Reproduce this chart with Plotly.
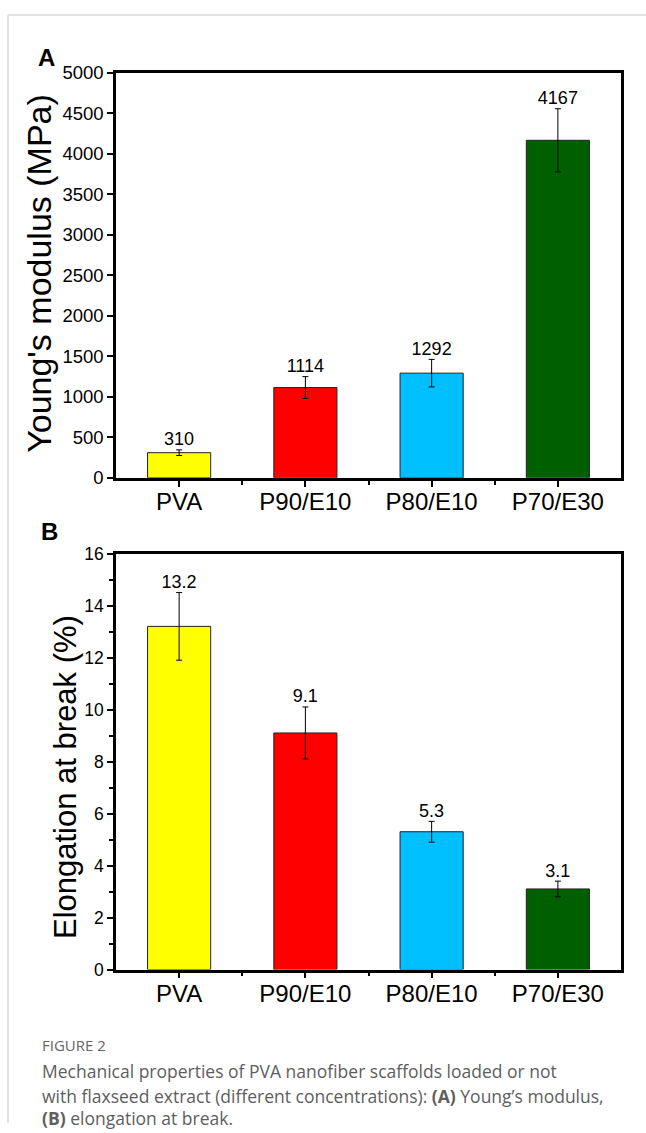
import plotly.graph_objects as go

W, H = 646, 1133

categories = ["PVA", "P90/E10", "P80/E10", "P70/E30"]
colors = ["#FFFF00", "#FF0000", "#00BFFF", "#006000"]

young_modulus = [310, 1114, 1292, 4167]
young_err = [35, 135, 170, 390]

elongation = [13.2, 9.1, 5.3, 3.1]
elong_err = [1.3, 1.0, 0.4, 0.3]

young_ticks = [0, 500, 1000, 1500, 2000, 2500, 3000, 3500, 4000, 4500, 5000]
elong_ticks = [0, 2, 4, 6, 8, 10, 12, 14, 16]

xpos = list(range(len(categories)))

# compensation for the photographed page (observed = 0.984*y + 8)
SY, OY = 0.984, 8.0


def fy(px):
    return 1 - ((px - OY) / SY) / H


def fx(px):
    return px / W


fig = go.Figure()

# Panel A
fig.add_trace(go.Bar(
    x=xpos, y=young_modulus, width=0.5,
    marker=dict(color=colors, line=dict(color="#222222", width=1)),
    error_y=dict(type="data", array=young_err, color="black", thickness=1, width=3),
    xaxis="x", yaxis="y", showlegend=False, hoverinfo="y"))
fig.add_trace(go.Scatter(
    x=xpos, y=[v + e for v, e in zip(young_modulus, young_err)],
    mode="text", text=[str(v) for v in young_modulus], textposition="top center",
    textfont=dict(size=18, color="black", family="Arial, Liberation Sans"),
    xaxis="x", yaxis="y", showlegend=False, hoverinfo="skip"))

# Panel B
fig.add_trace(go.Bar(
    x=xpos, y=elongation, width=0.5,
    marker=dict(color=colors, line=dict(color="#222222", width=1)),
    error_y=dict(type="data", array=elong_err, color="black", thickness=1, width=3),
    xaxis="x2", yaxis="y2", showlegend=False, hoverinfo="y"))
fig.add_trace(go.Scatter(
    x=xpos, y=[v + e for v, e in zip(elongation, elong_err)],
    mode="text", text=[f"{v:.1f}" for v in elongation], textposition="top center",
    textfont=dict(size=18, color="black", family="Arial, Liberation Sans"),
    xaxis="x2", yaxis="y2", showlegend=False, hoverinfo="skip"))

axis_font = dict(family="Arial, Liberation Sans", color="black")

xcommon = dict(
    range=[-0.5, 3.5], tickmode="array", tickvals=xpos, ticktext=categories,
    showline=True, linewidth=2.5, linecolor="black", mirror=True,
    ticks="outside", ticklen=6, tickwidth=1.5, tickcolor="black",
    ticklabelstandoff=-5,
    tickfont=dict(size=24, **axis_font), showgrid=False, zeroline=False,
    minor=dict(tickvals=[0.5, 1.5, 2.5], ticks="outside", ticklen=4, tickwidth=1.5, tickcolor="black"),
    domain=[fx(116), fx(621)])

fig.update_layout(
    width=W, height=H, margin=dict(l=0, r=0, t=0, b=0),
    paper_bgcolor="white", plot_bgcolor="white",
    xaxis=dict(anchor="y", **xcommon),
    yaxis=dict(
        range=[0, 5000], tickmode="array", tickvals=young_ticks,
        showline=True, linewidth=2.5, linecolor="black", mirror=True,
        ticks="outside", ticklen=6, tickwidth=1.5, tickcolor="black",
        tickfont=dict(size=18.5, **axis_font), showgrid=False, zeroline=False,
        anchor="x", domain=[fy(476), fy(70)]),
    xaxis2=dict(anchor="y2", **xcommon),
    yaxis2=dict(
        range=[0, 16], tickmode="array", tickvals=elong_ticks,
        showline=True, linewidth=2.5, linecolor="black", mirror=True,
        ticks="outside", ticklen=6, tickwidth=1.5, tickcolor="black",
        tickfont=dict(size=17.5, **axis_font), showgrid=False, zeroline=False,
        minor=dict(dtick=1, ticks="outside", ticklen=4, tickwidth=1.5, tickcolor="black"),
        anchor="x2", domain=[fy(969), fy(552)]),
)

cap_font = dict(size=17.5, family="Open Sans", color="#5e5e5e")
annotations = [
    dict(text="<b>A</b>", x=fx(47), y=fy(55), font=dict(size=24, **axis_font)),
    dict(text="<b>B</b>", x=fx(49), y=fy(530), font=dict(size=24, **axis_font)),
    dict(text="Young's modulus (MPa)", x=fx(39.5), y=fy(271), textangle=-90,
         font=dict(size=34, **axis_font)),
    dict(text="Elongation at break (%)", x=fx(65), y=fy(776), textangle=-90,
         font=dict(size=31, **axis_font)),
    dict(text="FIGURE 2", x=fx(40), y=fy(1045), xanchor="left",
         font=dict(size=15, family="Open Sans", color="#666666")),
    dict(text="Mechanical properties of PVA nanofiber scaffolds loaded or not",
         x=fx(40), y=fy(1071), xanchor="left", font=cap_font),
    dict(text="with flaxseed extract (different concentrations): <b>(A)</b> Young\u2019s modulus,",
         x=fx(40), y=fy(1096), xanchor="left", font=cap_font),
    dict(text="<b>(B)</b> elongation at break.",
         x=fx(40), y=fy(1118), xanchor="left", font=cap_font),
]
for a in annotations:
    a.setdefault("xanchor", "center")
    a.update(xref="paper", yref="paper", yanchor="middle", showarrow=False)
fig.update_layout(annotations=annotations)

fig.update_layout(shapes=[
    dict(type="line", xref="paper", yref="paper", x0=fx(8), x1=1, y0=fy(12), y1=fy(12),
         line=dict(color="#d8d8d8", width=1.5)),
    dict(type="line", xref="paper", yref="paper", x0=fx(8), x1=fx(8), y0=0, y1=fy(12),
         line=dict(color="#d8d8d8", width=1.5)),
])

fig.write_html(
    "out.html",
    config={"displayModeBar": False},
    post_script=(
        "var d=document.getElementById('{plot_id}');"
        "d.style.position='fixed';d.style.top='0px';d.style.left='0px';"
        "document.body.style.margin='0';"
        "document.documentElement.style.overflow='hidden';"
    ),
)
